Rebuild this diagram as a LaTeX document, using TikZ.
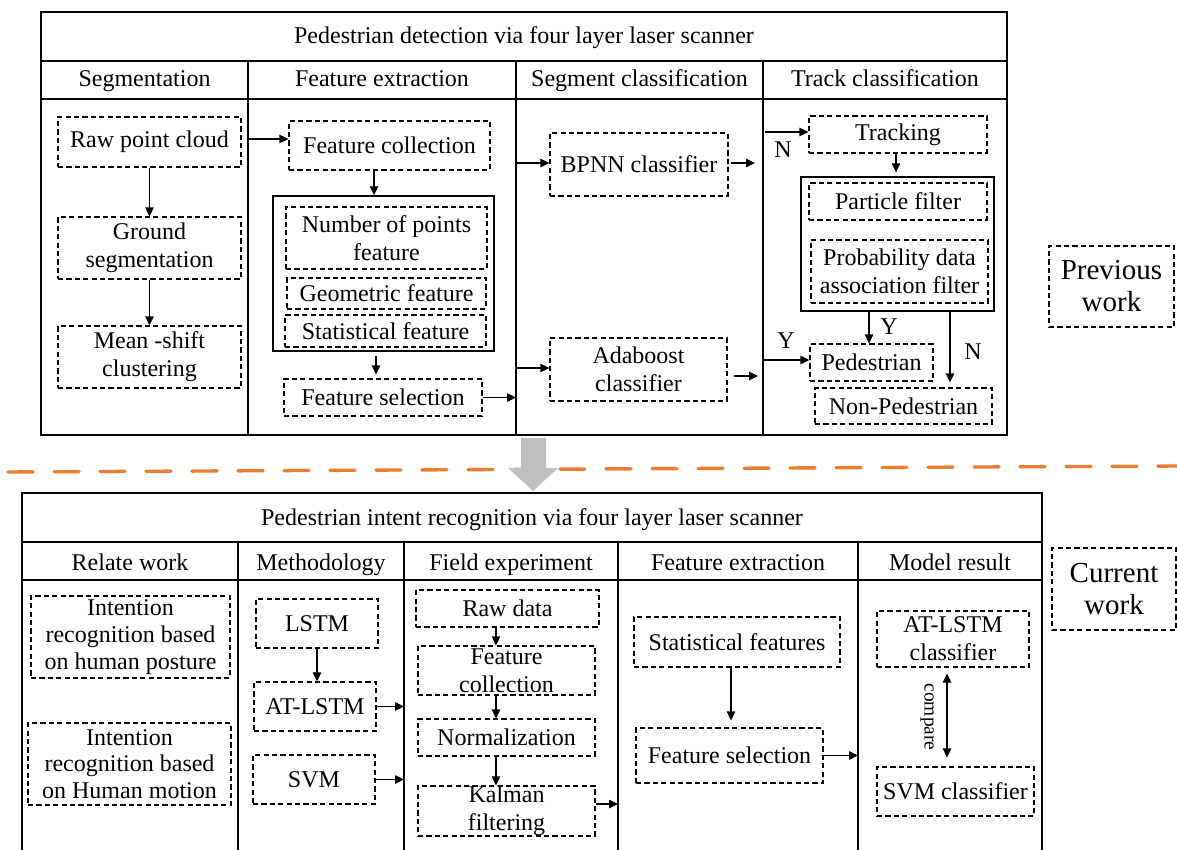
\documentclass[tikz,border=0pt]{standalone}
\usepackage{fontspec}
\setmainfont{Liberation Serif}
\usetikzlibrary{arrows.meta}
\def\pxu{0.5pt}
\tikzset{
    tabline/.style={line width=0.7pt}, % table rules
    dbox/.style={draw, line width=0.55pt, dash pattern=on 2.6pt off 1.6pt, align=center, inner sep=0pt},
    gbox/.style={draw, line width=0.7pt, inner sep=0pt},
    sz/.style args={#1/#2}{minimum width=#1*\pxu, minimum height=#2*\pxu},
    arr/.style={-{Triangle[length=4.5pt,width=4.2pt]}, line width=0.6pt},
    lbl/.style={inner sep=0pt},
    big/.style={font=\fontsize{14.5}{16}\selectfont}
}
\definecolor{dashorange}{RGB}{237,125,49}
\definecolor{arrowgray}{RGB}{191,191,191}

\begin{document}
\begin{tikzpicture}[x=\pxu, y=-\pxu, font=\fontsize{12}{14}\selectfont]
    \useasboundingbox (0,0) rectangle (1177,850);

    % previous work table
    \draw[tabline] (41,12) rectangle (1007,435);
    \draw[tabline] (41,61) -- (1007,61) (41,99) -- (1007,99);
    \foreach \x in {248,516,763} {\draw[tabline] (\x,61) -- (\x,435);}
    \node[anchor=base] (ttop) at (524,44) {Pedestrian detection via four layer laser scanner};
    \foreach \x/\t/\n in {144.5/Segmentation/h1, 382/Feature extraction/h2, 639.5/Segment classification/h3, 885/Track classification/h4}
        {\node[anchor=base] (\n) at (\x,87) {\t};}

    \node[dbox, sz=183/50] (raw) at (149.5,142) {Raw point cloud};
    \node[dbox, sz=183/62] (ground) at (149.5,248) {Ground\\segmentation};
    \node[dbox, sz=183/62] (mshift) at (149.5,357) {Mean -shift\\clustering};

    \node[dbox, sz=201/49] (fcoll) at (389.5,145.5) {Feature collection};
    \node[gbox, sz=221/155] (fgrp) at (383.5,273.5) {};
    \node[dbox, sz=201/62] (npts) at (386.5,238) {Number of points\\feature};
    \node[dbox, sz=199/31] (geom) at (386.5,293.5) {Geometric feature};
    \node[dbox, sz=201/32] (stat) at (385.5,331) {Statistical feature};
    \node[dbox, sz=198/37] (fsel) at (383,397.5) {Feature selection};

    \node[dbox, sz=178/63] (bpnn) at (639,164.5) {BPNN classifier};
    \node[dbox, sz=177/63] (ada) at (638.5,369.5) {Adaboost\\classifier};

    \node[dbox, sz=178/37] (track) at (898,134.5) {Tracking};
    \node[gbox, sz=193/134] (fgrp2) at (897.5,244) {};
    \node[dbox, sz=178/37] (pf) at (898,201.5) {Particle filter};
    \node[dbox, sz=177/63] (pdaf) at (899.5,271.5) {Probability data\\association filter};
    \node[dbox, sz=123/37] (ped) at (871.5,362.5) {Pedestrian};
    \node[dbox, sz=177/36] (nonped) at (903.5,406) {Non-Pedestrian};

    \node[dbox, sz=125/81, big] (prev) at (1111.5,286.5) {Previous\\work};

    \coordinate (b1) at (248,139);
    \coordinate (b2) at (516,397.5);
    \coordinate (b3) at (516,163);
    \coordinate (b4) at (516,368);
    \coordinate (e1) at (755,163);
    \coordinate (e2) at (758,376);
    \coordinate (b5) at (765,132);
    \coordinate (b6) at (763,360);

    \draw[arr] (b1) -- (b1 -| fcoll.west);
    \draw[arr] (raw) -- (ground);
    \draw[arr] (ground) -- (mshift);
    \draw[arr] (fcoll.south -| 374,0) -- (fgrp.north -| 374,0);
    \draw[arr, shorten <=2pt, shorten >=2pt] (fgrp.south -| 376,0) -- (fsel.north -| 376,0);
    \draw[arr] (fsel.east) -- (b2);
    \draw[arr] (b3) -- (b3 -| bpnn.west);
    \draw[arr] (b4) -- (b4 -| ada.west);
    \draw[arr, shorten <=1pt] (bpnn.east |- e1) -- (e1);
    \draw[arr, shorten <=3pt] (ada.east |- e2) -- (e2);
    \draw[arr] (b5) -- (b5 -| track.west);
    \draw[arr, shorten >=2pt] (track.south -| 896,0) -- (fgrp2.north -| 896,0);
    \draw[arr] (fgrp2.south -| 869,0) -- (ped.north -| 869,0);
    \draw[arr] (b6) -- (b6 -| ped.west);
    \draw[arr, shorten >=2.5pt] (fgrp2.south -| 950,0) -- (nonped.north -| 950,0);
    \node[lbl] (n1) at (783,150) {N};
    \node[lbl] (y1) at (889,327) {Y};
    \node[lbl] (y2) at (786,341) {Y};
    \node[lbl] (n2) at (973,352) {N};

    % separator
    \draw[dashorange, line width=1.7pt, line cap=round, dash pattern=on 12.5pt off 10.5pt] (8,472) -- (1177,466);
    \fill[arrowgray] (521,438) -- (546,438) -- (546,468) -- (558,468) -- (533,491) -- (508,468) -- (521,468) -- cycle;

    % current work table
    \draw[tabline] (22,850) -- (22,493) -- (1042,493) -- (1042,850);
    \draw[tabline] (22,542) -- (1042,542) (22,580) -- (1042,580);
    \foreach \x in {238,404,618,858} {\draw[tabline] (\x,542) -- (\x,850);}
    \node[anchor=base] (tbot) at (532,525) {Pedestrian intent recognition via four layer laser scanner};
    \foreach \x/\t/\n in {130/Relate work/k1, 321/Methodology/k2, 511/Field experiment/k3, 738/Feature extraction/k4, 950/Model result/k5}
        {\node[anchor=base] (\n) at (\x,570) {\t};}

    \node[dbox, sz=199/82, font=\fontsize{12}{13.4}\selectfont] (posture) at (130.5,637) {Intention\\recognition based\\on human posture};
    \node[dbox, sz=203/82, font=\fontsize{12}{13.4}\selectfont] (motion) at (129.5,764) {Intention\\recognition based\\on Human motion};

    \node[dbox, sz=122/49] (lstm) at (317,623.5) {LSTM};
    \node[dbox, sz=122/49] (atlstm) at (315,706.5) {AT-LSTM};
    \node[dbox, sz=122/49] (svm) at (314,779.5) {SVM};

    \node[dbox, sz=183/37] (rawd) at (507.5,608.5) {Raw data};
    \node[dbox, sz=177/49] (fc2) at (506.5,670.5) {Feature\\collection};
    \node[dbox, sz=177/37] (norm) at (506.5,737.5) {Normalization};
    \node[dbox, sz=177/50] (kal) at (506.5,811) {Kalman\\filtering};

    \node[dbox, sz=206/50] (statf) at (737,642) {Statistical features};
    \node[dbox, sz=187/55] (fsel2) at (729.5,755.5) {Feature selection};

    \node[dbox, sz=152/56] (atcls) at (953,639) {AT-LSTM\\classifier};
    \node[dbox, sz=157/49] (svmcls) at (955.5,791.5) {SVM classifier};

    \node[dbox, sz=124/82, big] (cur) at (1114,589) {Current\\work};

    \coordinate (b7) at (404,706.5);
    \coordinate (b8) at (404,779.5);
    \coordinate (b9) at (618,804);
    \coordinate (b10) at (858,755.5);

    \draw[arr] (lstm) -- (atlstm.north -| lstm);
    \draw[arr] (atlstm.east) -- (b7);
    \draw[arr] (svm.east) -- (b8);
    \draw[arr] (rawd.south -| 496,0) -- (fc2.north -| 496,0);
    \draw[arr] (fc2.south -| 496,0) -- (norm.north -| 496,0);
    \draw[arr] (norm.south -| 496,0) -- (kal.north -| 496,0);
    \draw[arr] (kal.east |- b9) -- (b9);
    \draw[arr, shorten >=3.5pt] (statf.south -| 731,0) -- (fsel2.north -| 731,0);
    \draw[arr] (fsel2.east) -- (b10);
    \draw[{Triangle[length=4.5pt,width=4.2pt]}-{Triangle[length=4.5pt,width=4.2pt]}, line width=0.6pt, shorten <=3pt, shorten >=4.5pt]
        (atcls.south -| 947,0) -- (svmcls.north -| 947,0);
    \node[lbl, rotate=-90, font=\fontsize{9.7}{11}\selectfont] (cmp) at (927,717) {compare};
\end{tikzpicture}
\end{document}
